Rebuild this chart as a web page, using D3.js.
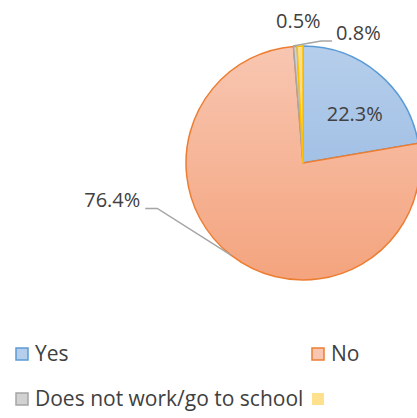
<!DOCTYPE html>
<html>
<head>
<meta charset="utf-8">
<script src="https://cdn.jsdelivr.net/npm/d3@7"></script>
<style>
  body { margin: 0; background: #fff; }
  text { font-family: "Open Sans", sans-serif; fill: #404040; }
</style>
</head>
<body>
<svg id="chart" width="417" height="418"></svg>
<script>
// chart data
var categories = ["Yes", "No", "Does not work/go to school", ""];
var values = [22.3, 76.4, 0.5, 0.8];
var labels = ["22.3%", "76.4%", "0.5%", "0.8%"];

var fillTop = ["#B5CEEB", "#F8C6B1", "#D2D2D2", "#FFE08C"];
var fillBottom = ["#91B4E0", "#F4A47E", "#BDBDBD", "#FFD466"];
var strokes = ["#5B9BD5", "#ED7D31", "#A5A5A5", "#FFC000"];

var cx = 303, cy = 163, radius = 117;

var svg = d3.select("#chart");
var defs = svg.append("defs");

for (var i = 0; i < categories.length; i++) {
  var g = defs.append("linearGradient")
    .attr("id", "grad" + i)
    .attr("gradientUnits", "userSpaceOnUse")
    .attr("x1", 0).attr("x2", 0)
    .attr("y1", -radius).attr("y2", radius);
  g.append("stop").attr("offset", "0%").attr("stop-color", fillTop[i]);
  g.append("stop").attr("offset", "100%").attr("stop-color", fillBottom[i]);
}

var pie = d3.pie().sort(null).value(function (d) { return d; });
var arcs = pie(values);
var arc = d3.arc().innerRadius(0).outerRadius(radius);

var pieG = svg.append("g").attr("transform", "translate(" + cx + "," + cy + ")");

pieG.selectAll("path.slice")
  .data(arcs)
  .enter().append("path")
  .attr("class", "slice")
  .attr("d", arc)
  .attr("fill", function (d, i) { return "url(#grad" + i + ")"; })
  .attr("stroke", function (d, i) { return strokes[i]; })
  .attr("stroke-width", 1.5)
  .attr("stroke-linejoin", "round");

// point on the edge of the pie at the middle of a slice
function edgePoint(d, r) {
  var a = (d.startAngle + d.endAngle) / 2;
  return [Math.sin(a) * r, -Math.cos(a) * r];
}

var labelG = svg.append("g").attr("transform", "translate(" + cx + "," + cy + ")");

// Yes: inside the slice
var c0 = edgePoint(arcs[0], radius * 0.62);
labelG.append("text")
  .attr("x", c0[0] + 5).attr("y", c0[1] + 6)
  .attr("text-anchor", "middle").attr("dy", "0.35em")
  .style("font-size", "20px")
  .text(labels[0]);

// No: outside with leader line to the left
var p1 = edgePoint(arcs[1], radius);
var elbow1 = [p1[0] - 74, p1[1] - 47];
labelG.append("polyline")
  .attr("points", [p1, elbow1, [elbow1[0] - 12, elbow1[1]]].map(function (p) { return p.join(","); }).join(" "))
  .attr("fill", "none").attr("stroke", "#A5A5A5").attr("stroke-width", 1.5);
labelG.append("text")
  .attr("x", elbow1[0] - 17).attr("y", elbow1[1] - 8)
  .attr("text-anchor", "end").attr("dy", "0.35em")
  .style("font-size", "20px")
  .text(labels[1]);

// gray slice: label above
var p2 = edgePoint(arcs[2], radius);
labelG.append("text")
  .attr("x", p2[0] + 3).attr("y", p2[1] - 25)
  .attr("text-anchor", "middle").attr("dy", "0.35em")
  .style("font-size", "20px")
  .text(labels[2]);

// yellow slice: label up right with leader
var p3 = edgePoint(arcs[3], radius);
var elbow3 = [p3[0] + 21, p3[1] - 5];
labelG.append("polyline")
  .attr("points", [[p3[0] - 7, p3[1]], elbow3, [elbow3[0] + 11, elbow3[1]]].map(function (p) { return p.join(","); }).join(" "))
  .attr("fill", "none").attr("stroke", "#A5A5A5").attr("stroke-width", 1.5);
labelG.append("text")
  .attr("x", elbow3[0] + 15).attr("y", elbow3[1] - 8)
  .attr("text-anchor", "start").attr("dy", "0.35em")
  .style("font-size", "20px")
  .text(labels[3]);

// legend
var legendX = [15, 311, 15, 311];
var legendY = [354, 354, 399, 399];
var legend = svg.append("g");
for (var k = 0; k < categories.length; k++) {
  legend.append("rect")
    .attr("x", legendX[k] + 1).attr("y", legendY[k] - 6)
    .attr("width", 12).attr("height", 12)
    .attr("fill", fillTop[k])
    .attr("stroke", k == 3 ? "none" : strokes[k])
    .attr("stroke-width", 1.5);
  legend.append("text")
    .attr("x", legendX[k] + 20).attr("y", legendY[k])
    .attr("dy", "0.33em")
    .style("font-size", "21px")
    .text(categories[k]);
}
</script>
</body>
</html>
